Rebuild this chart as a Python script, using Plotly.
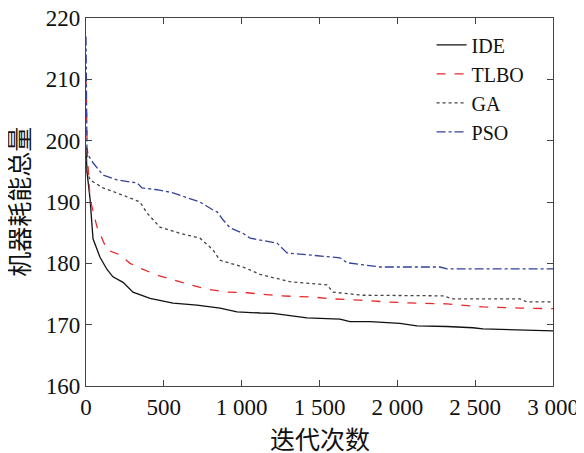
import plotly.graph_objects as go

# Curvas de convergência
ide_it = [0, 6, 26, 45, 90, 135, 173, 238, 302, 411, 559, 713, 861, 970, 1118, 1201,
          1420, 1631, 1696, 1824, 2017, 2126, 2318, 2486, 2550, 2871, 3000]
ide_val = [199, 195, 190.5, 184, 181, 179, 177.8, 176.9, 175.3, 174.3, 173.5, 173.2, 172.7,
           172.1, 171.9, 171.85, 171.1, 170.9, 170.5, 170.5, 170.2, 169.8, 169.7, 169.5,
           169.3, 169.0, 169.0]

tlbo_it = [0, 4, 8, 26, 71, 135, 218, 283, 347, 456, 559, 668, 777, 906, 1034, 1118, 1246,
           1458, 1587, 1760, 1934, 2126, 2319, 2448, 2550, 2788, 3000]
tlbo_val = [210.5, 205, 198, 190.5, 185.9, 182.2, 181.4, 180, 179.2, 178.1, 177.3, 176.5,
            175.8, 175.3, 175.2, 175.0, 174.7, 174.5, 174.2, 174.0, 173.7, 173.5, 173.4,
            173.1, 172.9, 172.7, 172.6]

ga_it = [0, 6, 26, 109, 238, 347, 392, 475, 604, 732, 816, 861, 1009, 1118, 1310, 1548,
         1587, 1779, 2293, 2358, 2788, 2833, 3000]
ga_val = [199, 195, 193.6, 192.3, 191.1, 190, 188.2, 185.9, 184.9, 184.1, 182.2, 180.5,
          179.4, 178.2, 177.0, 176.5, 175.3, 174.8, 174.7, 174.2, 174.2, 173.7, 173.7]

pso_it = [0, 3, 6, 13, 45, 109, 199, 328, 360, 456, 559, 649, 732, 816, 842, 880, 925,
          1009, 1054, 1118, 1227, 1291, 1420, 1632, 1677, 1889, 2274, 2319, 3000]
pso_val = [217, 205, 199, 197.7, 196.4, 194.4, 193.6, 193.1, 192.3, 192, 191.5, 190.7, 190,
           188.7, 188.4, 187.1, 185.8, 184.9, 184.1, 183.8, 183.3, 181.7, 181.4, 180.9,
           180.1, 179.4, 179.4, 179.1, 179.1]

x_ticks = [0, 500, 1000, 1500, 2000, 2500, 3000]
x_ticktext = ['0', '500', '1 000', '1 500', '2 000', '2 500', '3 000']
y_ticks = [160, 170, 180, 190, 200, 210, 220]

fig = go.Figure()
fig.add_trace(go.Scatter(x=ide_it, y=ide_val, mode='lines', name='IDE',
                         line=dict(color='#111111', width=1.3)))
fig.add_trace(go.Scatter(x=tlbo_it, y=tlbo_val, mode='lines', name='TLBO',
                         line=dict(color='#E8282B', width=1.3, dash='dash')))
fig.add_trace(go.Scatter(x=ga_it, y=ga_val, mode='lines', name='GA',
                         line=dict(color='#444444', width=1.3, dash='dot')))
fig.add_trace(go.Scatter(x=pso_it, y=pso_val, mode='lines', name='PSO',
                         line=dict(color='#34409A', width=1.3, dash='dashdot')))

tick_font = dict(family='Liberation Serif', size=23, color='#111111')
title_font = dict(family='Noto Sans CJK SC', size=25, color='#111111')

# a página tem margem de 8px no body, por isso a figura é um pouco menor
fig.update_layout(
    width=576, height=445,
    margin=dict(l=78, r=31, t=10, b=67),
    plot_bgcolor='white', paper_bgcolor='white',
    showlegend=True,
    legend=dict(x=0.74, y=0.98, xanchor='left', yanchor='top',
                font=dict(family='Liberation Serif', size=20, color='#111111'),
                bgcolor='rgba(0,0,0,0)', tracegroupgap=0, itemwidth=30),
    annotations=[
        dict(text='迭代次数', xref='paper', yref='paper', x=0.5, y=-0.141,
             xanchor='center', yanchor='middle', showarrow=False, font=title_font),
        dict(text='机器耗能总量', xref='paper', yref='paper', x=-0.146, y=0.5,
             xanchor='center', yanchor='middle', showarrow=False, textangle=-90,
             font=title_font),
    ],
)
fig.update_xaxes(range=[0, 3000], tickvals=x_ticks, ticktext=x_ticktext,
                 ticks='inside', ticklen=6, tickcolor='#444444',
                 showline=True, linecolor='#444444', linewidth=1.2, mirror='ticks',
                 showgrid=False, zeroline=False, tickfont=tick_font, automargin=False,
                 ticklabeloverflow='allow')
fig.update_yaxes(range=[160, 220], tickvals=y_ticks,
                 ticks='inside', ticklen=6, tickcolor='#444444',
                 showline=True, linecolor='#444444', linewidth=1.2, mirror='ticks',
                 showgrid=False, zeroline=False, tickfont=tick_font, automargin=False,
                 ticklabeloverflow='allow')

fig.write_html("out.html")
